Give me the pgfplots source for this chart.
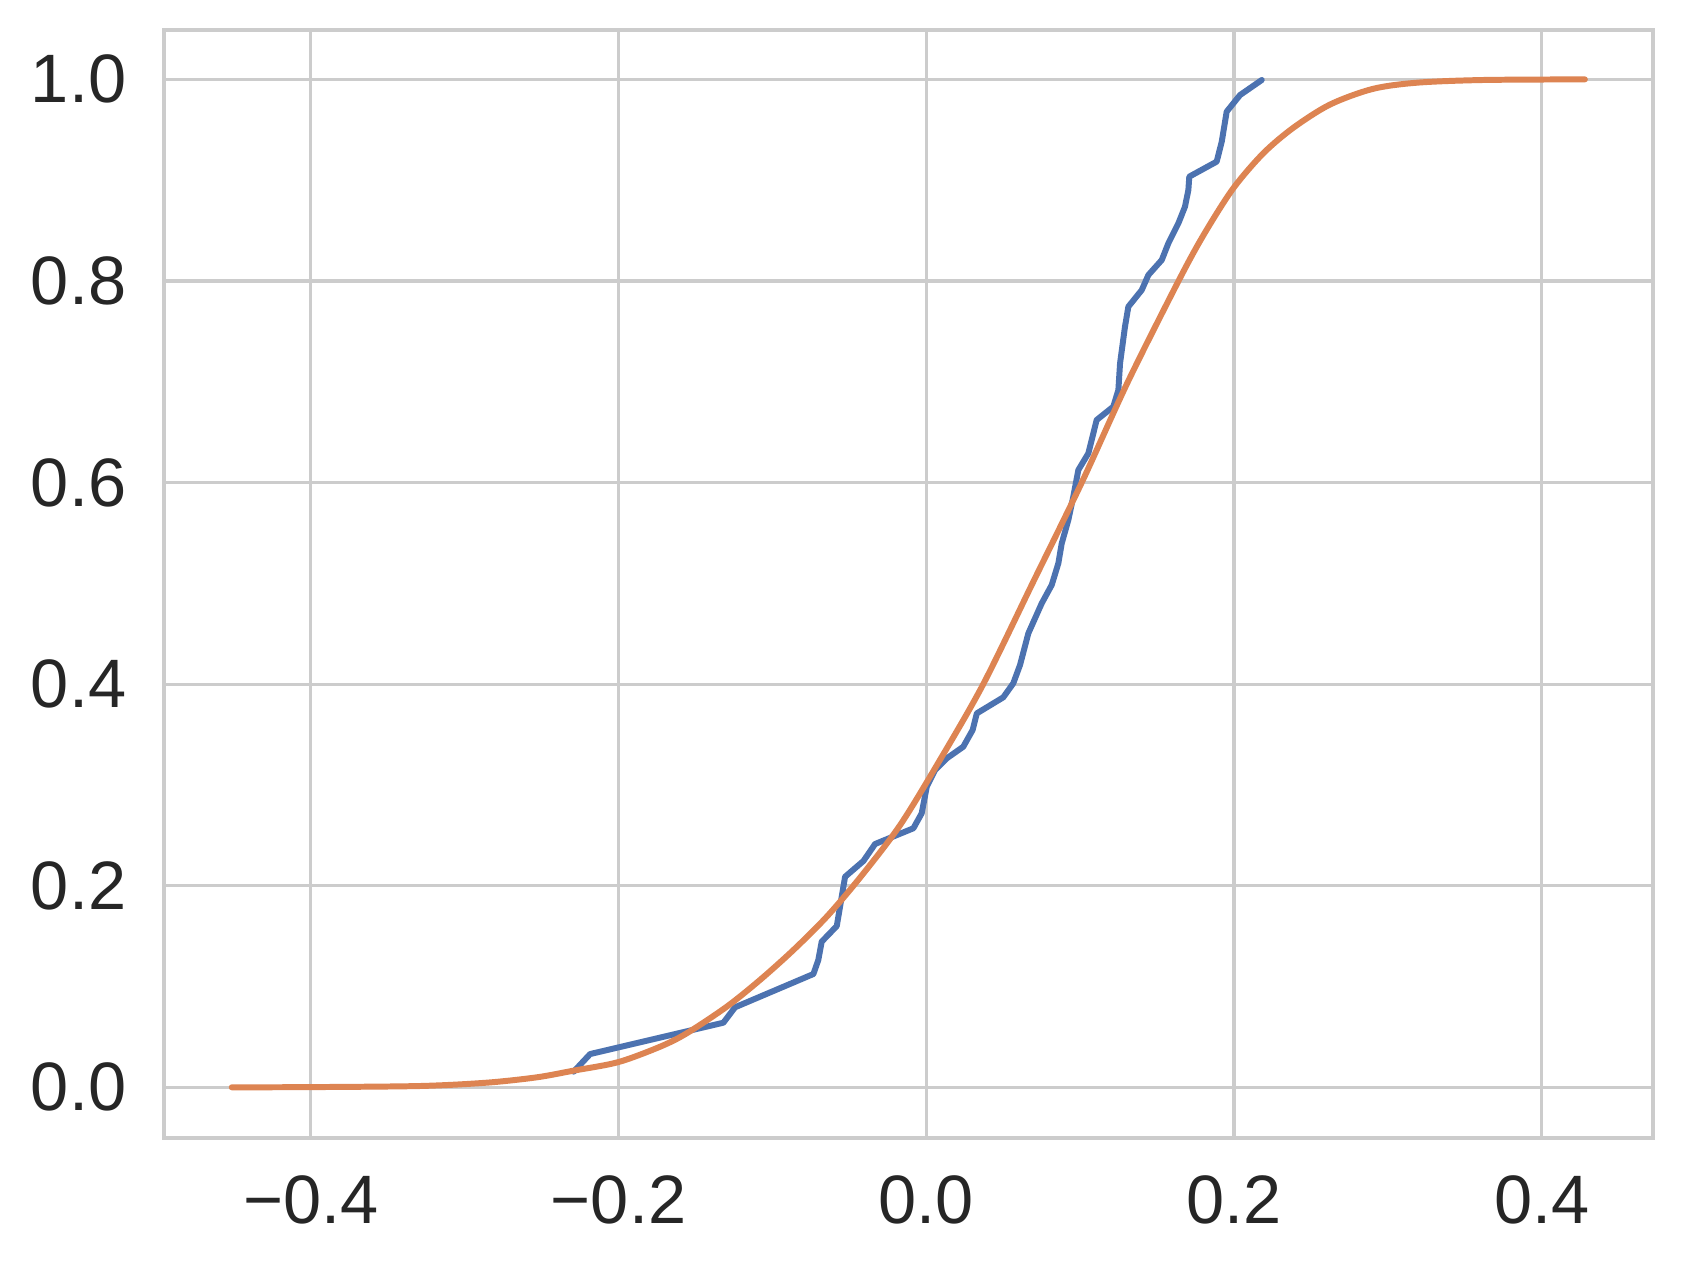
\documentclass[border=0pt]{standalone}
\usepackage{fontspec}
\setmainfont{Liberation Sans}
\usepackage{pgfplots}
\pgfplotsset{compat=1.18}
\definecolor{gridgray}{HTML}{CCCCCC}
\definecolor{txt}{HTML}{262626}
\definecolor{sbblue}{HTML}{4C72B0}
\definecolor{sborange}{HTML}{DD8452}

\pgfplotstableread{
x y
-0.2292 0.0155
-0.2185 0.0330
-0.1319 0.0641
-0.1243 0.0794
-0.0734 0.1124
-0.0702 0.1263
-0.0680 0.1445
-0.0582 0.1600
-0.0528 0.2089
-0.0409 0.2245
-0.0333 0.2414
-0.0084 0.2570
-0.0030 0.2719
0.0003 0.2983
0.0057 0.3148
0.0133 0.3264
0.0240 0.3379
0.0301 0.3545
0.0328 0.3710
0.0500 0.3869
0.0565 0.4008
0.0609 0.4190
0.0663 0.4504
0.0750 0.4802
0.0815 0.4984
0.0858 0.5199
0.0880 0.5397
0.0923 0.5629
0.0955 0.5860
0.0988 0.6125
0.1053 0.6290
0.1107 0.6621
0.1215 0.6753
0.1248 0.6918
0.1259 0.7183
0.1291 0.7546
0.1313 0.7745
0.1400 0.7910
0.1443 0.8059
0.1530 0.8208
0.1573 0.8374
0.1638 0.8572
0.1681 0.8737
0.1703 0.8903
0.1709 0.9035
0.1887 0.9184
0.1920 0.9383
0.1952 0.9680
0.2039 0.9845
0.2180 0.9994
}\empirical

\pgfplotstableread{
x y
-0.4514 0.0000
-0.4005 0.0002
-0.3290 0.0013
-0.2857 0.0046
-0.2532 0.0099
-0.2294 0.0165
-0.2002 0.0250
-0.1730 0.0403
-0.1557 0.0536
-0.1297 0.0800
-0.1081 0.1065
-0.0864 0.1362
-0.0647 0.1693
-0.0431 0.2080
-0.0171 0.2600
0.0089 0.3249
0.0370 0.4000
0.0690 0.5000
0.1010 0.6000
0.1310 0.7000
0.1649 0.8030
0.1811 0.8480
0.1995 0.8920
0.2190 0.9267
0.2385 0.9520
0.2623 0.9750
0.2900 0.9905
0.3187 0.9967
0.3620 0.9994
0.4280 1.0000
}\fitted

\begin{document}
\begin{tikzpicture}
\begin{axis}[
  name=ax,
  width=14.887cm, height=11.077cm, scale only axis,
  xmin=-0.4953, xmax=0.4722, ymin=-0.05, ymax=1.049,
  xtick={-0.4,-0.2,0,0.2,0.4},
  xticklabels={−0.4,−0.2,0.0,0.2,0.4},
  ytick={0,0.2,0.4,0.6,0.8,1.0},
  yticklabels={0.0,0.2,0.4,0.6,0.8,1.0},
  major tick length=0pt,
  grid=major,
  major grid style={draw=gridgray, line width=0.9pt},
  axis line style={draw=gridgray, line width=1.1pt},
  ticklabel style={font=\fontsize{19.5}{23}\selectfont, text=txt},
  xticklabel style={yshift=-0.26cm},
  yticklabel style={xshift=-0.256cm},
  axis background/.style={fill=white},
]
\addplot[sbblue, line width=1.7pt, line cap=round, line join=round] table[x=x,y=y] {\empirical};
\addplot[sborange, line width=1.7pt, line cap=round, line join=round, smooth] table[x=x,y=y] {\fitted};
\end{axis}
\path ([xshift=-1.642cm,yshift=-1.343cm]ax.south west) rectangle ([xshift=0.301cm,yshift=0.30cm]ax.north east);
\end{tikzpicture}
\end{document}
